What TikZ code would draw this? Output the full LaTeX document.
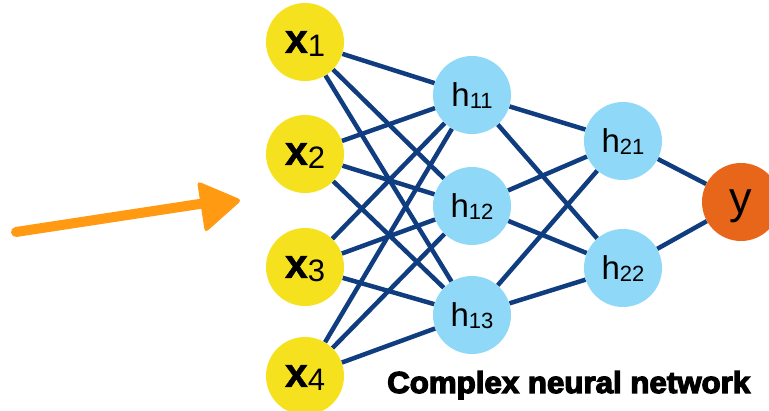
\documentclass[tikz,border=0pt]{standalone}
\usepackage{fontspec}
\setmainfont{Liberation Sans}
\newfontfamily\heavyfont[FakeBold=4]{Liberation Sans Bold}
\newfontfamily\xfont[FakeBold=1.2]{Liberation Sans Bold}
\usetikzlibrary{backgrounds}
\definecolor{inyel}{HTML}{F6E11E}
\definecolor{hblue}{HTML}{8FD8F7}
\definecolor{outor}{HTML}{E8661A}
\definecolor{edgeb}{HTML}{0F3D80}
\definecolor{arrowor}{HTML}{FF9A12}
\newcommand\xlab[1]{{\fontsize{41}{41}\xfont x}\lower4pt\hbox{\fontsize{31}{31}\selectfont #1}}
\newcommand\hlab[1]{\fontsize{33}{33}\selectfont h\lower2pt\hbox{\fontsize{22}{22}\selectfont #1}}
\tikzset{
  neuron/.style={circle, minimum size=78pt, inner sep=0pt, text depth=0pt},
  inp/.style={neuron, fill=inyel},
  hid/.style={neuron, fill=hblue},
  outn/.style={neuron, fill=outor, font=\fontsize{45}{45}\selectfont},
  conn/.style={draw=edgeb, line width=4.5pt},
  crayon/.style={arrowor, line width=10pt, line cap=round}
}
\begin{document}
\begin{tikzpicture}[x=1pt,y=-1pt]
\useasboundingbox (0,0) rectangle (769,411);
\node[inp] (x1) at (305,42) {\xlab{1}};
\node[inp] (x2) at (305,154) {\xlab{2}};
\node[inp] (x3) at (305,267) {\xlab{3}};
\node[inp] (x4) at (305,376) {\xlab{4}};
\node[hid] (h11) at (472,95) {\hlab{11}};
\node[hid] (h12) at (472,206) {\hlab{12}};
\node[hid] (h13) at (472,315) {\hlab{13}};
\node[hid] (h21) at (623,141) {\hlab{21}};
\node[hid] (h22) at (623,268) {\hlab{22}};
\node[outn] (y) at (741,202) {y};
\begin{scope}[on background layer]
\foreach \i in {1,2,3,4}{\foreach \j in {11,12,13}{\draw[conn] (x\i) -- (h\j);}}
\foreach \j in {11,12,13}{\foreach \k in {21,22}{\draw[conn] (h\j) -- (h\k);}}
\foreach \k in {21,22}{\draw[conn] (h\k) -- (y);}
\end{scope}
\coordinate (a0) at (16,232);
\coordinate (a1) at (206,203);
\draw[crayon] (a0) -- (a1);
\fill[arrowor, rounded corners=4pt] (197,181) -- (242,200) -- (205,233) -- cycle;
\node[anchor=base west, inner sep=0pt] (title) at (387,393)
  {\resizebox{363pt}{22pt}{\heavyfont Complex neural network}};
\end{tikzpicture}
\end{document}
